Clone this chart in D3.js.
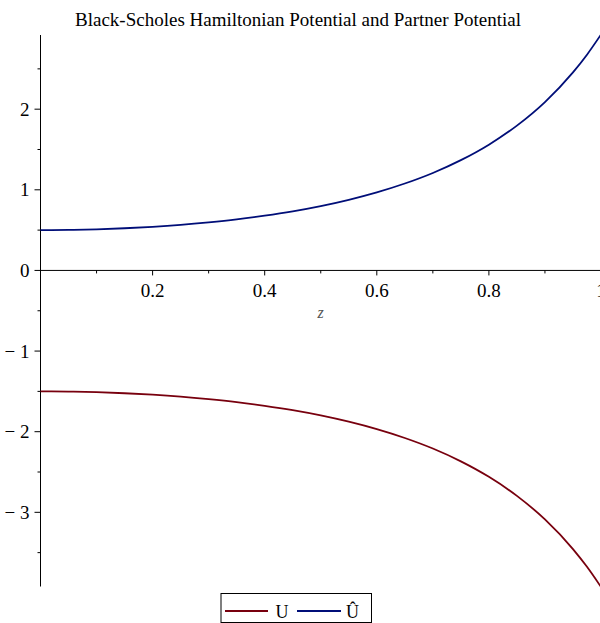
<!DOCTYPE html>
<html><head><meta charset="utf-8">
<script src="https://cdn.jsdelivr.net/npm/d3@7"></script>
<style>body{margin:0;background:#fff;}svg{display:block;}</style>
</head><body>
<svg id="c" width="600" height="623"></svg>
<script>
const zValues = [0,0.05,0.1,0.15,0.2,0.25,0.3,0.35,0.4,0.45,0.5,0.55,0.6,0.65,0.7,0.75,0.8,0.85,0.9,0.95,0.975,1.0];
const uHatValues = [0.500,0.503,0.510,0.523,0.541,0.565,0.596,0.633,0.679,0.733,0.798,0.876,0.968,1.078,1.209,1.368,1.560,1.796,2.088,2.456,2.676,2.926];
const uValues = [-1.500,-1.503,-1.510,-1.523,-1.541,-1.565,-1.596,-1.633,-1.679,-1.733,-1.798,-1.876,-1.968,-2.078,-2.209,-2.368,-2.560,-2.796,-3.088,-3.456,-3.676,-3.926];
const xMajorTicks = [0.2,0.4,0.6,0.8,1];
const xMinorTicks = [0.1,0.3,0.5,0.7,0.9];
const yMajorTicks = [-3,-2,-1,0,1,2];
const yMinorTicks = [-3.5,-2.5,-1.5,-0.5,0.5,1.5,2.5];
const seriesNames = ["U","Û"];
const seriesColors = ["#78000E","#000E78"];
const title = "Black-Scholes Hamiltonian Potential and Partner Potential";

const svg = d3.select("#c");
const x = d3.scaleLinear().domain([0,1]).range([40.5,601]);
const y = d3.scaleLinear().domain([-3.92,2.92]).range([586.5,35]);
const font = "'Liberation Serif','Times New Roman',serif";

svg.append("text").attr("x",298).attr("y",25.5).attr("text-anchor","middle")
  .attr("font-family",font).attr("font-size",19).attr("fill","#000").text(title);

// axes
const g = svg.append("g").attr("stroke","#000").attr("stroke-width",1);
g.append("line").attr("x1",x(0)).attr("x2",x(0)).attr("y1",y(2.92)).attr("y2",y(-3.92));
g.append("line").attr("x1",x(0)).attr("x2",601).attr("y1",y(0)).attr("y2",y(0));
yMajorTicks.forEach(v=>g.append("line").attr("x1",x(0)-6).attr("x2",x(0)).attr("y1",y(v)).attr("y2",y(v)));
yMinorTicks.forEach(v=>g.append("line").attr("x1",x(0)-3).attr("x2",x(0)).attr("y1",y(v)).attr("y2",y(v)));
xMajorTicks.forEach(v=>g.append("line").attr("x1",x(v)).attr("x2",x(v)).attr("y1",y(0)).attr("y2",y(0)+5));
xMinorTicks.forEach(v=>g.append("line").attr("x1",x(v)).attr("x2",x(v)).attr("y1",y(0)).attr("y2",y(0)+3));

const fmtY = v => v<0 ? "\u2212 "+Math.abs(v) : String(v);
yMajorTicks.forEach(v=>svg.append("text").attr("x",x(0)-11).attr("y",y(v)).attr("dy","0.35em")
  .attr("text-anchor","end").attr("font-family",font).attr("font-size",19).attr("fill","#000").text(fmtY(v)));
xMajorTicks.forEach(v=>svg.append("text").attr("x",x(v)).attr("y",y(0)+26.5)
  .attr("text-anchor","middle").attr("font-family",font).attr("font-size",19).attr("fill","#000").text(String(v)));
svg.append("text").attr("x",320.5).attr("y",318).attr("text-anchor","middle").attr("font-family",font)
  .attr("font-style","italic").attr("font-size",16).attr("fill","#555").text("z");

const line = d3.line().curve(d3.curveMonotoneX).x(d=>x(d[0])).y(d=>y(d[1]));
svg.append("clipPath").attr("id","cp").append("rect").attr("x",0).attr("y",30).attr("width",600).attr("height",560);
[uValues,uHatValues].forEach((vals,i)=>{
  svg.append("path").attr("d",line(zValues.map((z,j)=>[z,vals[j]])))
    .attr("fill","none").attr("stroke",seriesColors[i]).attr("stroke-width",1.8).attr("clip-path","url(#cp)");
});

// legend
const lg = svg.append("g");
lg.append("rect").attr("x",221).attr("y",593.5).attr("width",150.5).attr("height",29)
  .attr("fill","#fff").attr("stroke","#000").attr("stroke-width",1);
const items = [{x1:225,x2:268,tx:282},{x1:297,x2:341,tx:352.5}];
items.forEach((it,i)=>{
  lg.append("line").attr("x1",it.x1).attr("x2",it.x2).attr("y1",611).attr("y2",611)
    .attr("stroke",seriesColors[i]).attr("stroke-width",1.8);
  lg.append("text").attr("x",it.tx).attr("y",617.5).attr("text-anchor","middle").attr("font-family",font)
    .attr("font-size",18).attr("fill","#000").text(seriesNames[i]);
});
</script>
</body></html>
